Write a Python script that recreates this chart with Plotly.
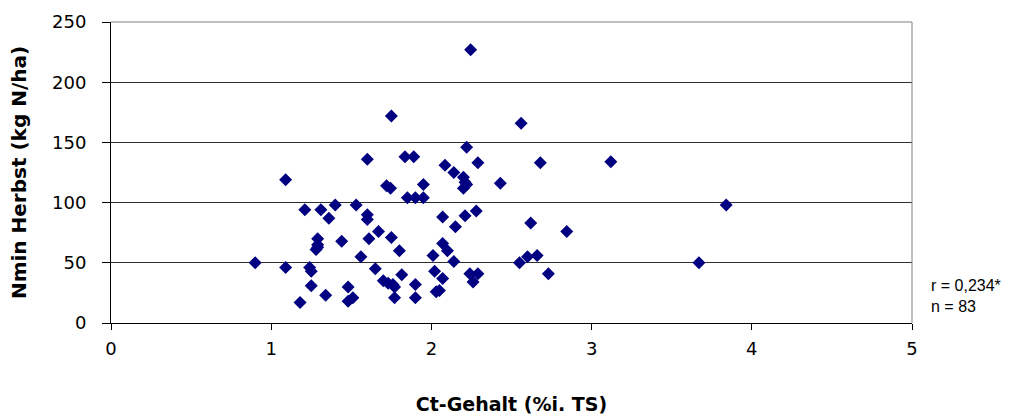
import plotly.graph_objects as go

ct_gehalt = [0.90, 1.09, 1.09, 1.18, 1.21, 1.24, 1.25, 1.25, 1.29, 1.29,
             1.28, 1.31, 1.34, 1.36, 1.40, 1.44, 1.48, 1.48, 1.51, 1.53,
             1.56, 1.60, 1.60, 1.60, 1.61, 1.65, 1.67, 1.70, 1.73, 1.72,
             1.745, 1.75, 1.75, 1.77, 1.77, 1.80, 1.815, 1.835, 1.89, 1.85,
             1.90, 1.95, 1.95, 1.90, 1.90, 2.01, 2.02, 2.03, 2.05, 2.07,
             2.07, 2.07, 2.10, 2.14, 2.15, 2.085, 2.14, 2.20, 2.22, 2.20,
             2.21, 2.28, 2.22, 2.245, 2.29, 2.24, 2.29, 2.26, 2.43, 2.56,
             2.55, 2.60, 2.66, 2.62, 2.68, 2.73, 2.845, 3.12, 3.67, 3.84,
             1.29, 2.21, 1.76]
nmin_herbst = [50, 119, 46, 17, 94, 46, 43, 31, 70, 65,
               61, 94, 23, 87, 98, 68, 30, 18, 21, 98,
               55, 136, 90, 86, 70, 45, 76, 35, 33, 114,
               112, 71, 172, 30, 21, 60, 40, 138, 138, 104,
               104, 104, 115, 32, 21, 56, 43, 26, 27, 37,
               88, 66, 60, 51, 80, 131, 125, 121, 115, 112,
               89, 93, 146, 227, 133, 41, 41, 34, 116, 166,
               50, 55, 56, 83, 133, 41, 76, 134, 50, 98,
               63, 117, 32]

x_ticks = [0, 1, 2, 3, 4, 5]
y_ticks = [0, 50, 100, 150, 200, 250]

TICK_FONT = "DejaVu Sans, sans-serif"
TITLE_FONT = "DejaVu Sans, sans-serif"
TEXT_FONT = "Liberation Sans, Arial, sans-serif"

fig = go.Figure()
fig.add_trace(go.Scatter(
    x=ct_gehalt, y=nmin_herbst, mode="markers",
    marker=dict(symbol="diamond", size=10, color="#000080", line=dict(width=0)),
    showlegend=False, cliponaxis=False,
))

fig.update_layout(
    width=1028, height=418,
    margin=dict(l=111, r=116, t=22, b=95),
    paper_bgcolor="white", plot_bgcolor="white",
    font=dict(family=TICK_FONT, size=18, color="black"),
    xaxis=dict(
        range=[0, 5], tickvals=x_ticks, ticks="outside", ticklen=6,
        tickcolor="black", showline=True, linecolor="black", linewidth=1,
        showgrid=False, zeroline=False, mirror=False, automargin=False,
        tickfont=dict(family=TICK_FONT, size=18),
        title=dict(text="<b>Ct-Gehalt (%i. TS)</b>",
                   font=dict(family=TITLE_FONT, size=19), standoff=40),
        ticklabelstandoff=3,
    ),
    yaxis=dict(
        range=[0, 250], tickvals=y_ticks, ticks="outside", ticklen=8,
        tickcolor="black", showline=True, linecolor="black", linewidth=1,
        showgrid=True, gridcolor="#303030", gridwidth=1, zeroline=False,
        automargin=False,
        tickfont=dict(family=TICK_FONT, size=18),
        title=dict(text="<b>Nmin Herbst (kg N/ha)</b>",
                   font=dict(family=TITLE_FONT, size=20), standoff=20),
        ticklabelstandoff=12,
    ),
    shapes=[
        dict(type="line", xref="paper", yref="paper", x0=1, x1=1, y0=0, y1=1,
             line=dict(color="#808080", width=1)),
        dict(type="line", xref="paper", yref="paper", x0=0, x1=1, y0=1, y1=1,
             line=dict(color="#808080", width=1)),
    ],
    annotations=[
        dict(text="r = 0,234*", xref="paper", yref="paper", x=1.021, y=0.124,
             xanchor="left", yanchor="middle", showarrow=False,
             font=dict(family=TEXT_FONT, size=16)),
        dict(text="n = 83", xref="paper", yref="paper", x=1.021, y=0.054,
             xanchor="left", yanchor="middle", showarrow=False,
             font=dict(family=TEXT_FONT, size=16)),
    ],
)

fig.write_html("out.html")
